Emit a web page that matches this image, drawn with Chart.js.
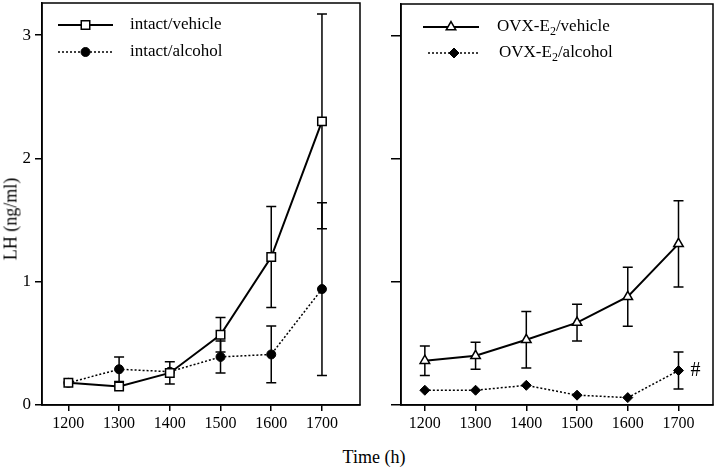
<!DOCTYPE html>
<html>
<head>
<meta charset="utf-8">
<script src="https://cdn.jsdelivr.net/npm/chart.js"></script>
<style>
html, body { margin: 0; padding: 0; background: #fff; }
body { width: 720px; height: 468px; position: relative; overflow: hidden; font-family: "Liberation Serif", "Times New Roman", serif; color: #000; }
.panel { position: absolute; top: 0; height: 432px; }
#left { left: 0; width: 370px; }
#right { left: 380px; width: 340px; }
.ytitle { position: absolute; left: 11px; top: 219px; transform: translate(-50%, -50%) rotate(-90deg); font-size: 18px; white-space: nowrap; }
.xtitle { position: absolute; left: 374px; top: 457px; transform: translate(-50%, -50%); font-size: 18px; white-space: nowrap; }
</style>
</head>
<body>
<div class="panel" id="left"><canvas id="c1"></canvas></div>
<div class="panel" id="right"><canvas id="c2"></canvas></div>
<div class="ytitle">LH (ng/ml)</div>
<div class="xtitle">Time (h)</div>
<script>
// sampling times and axis ticks
const times = [1200, 1300, 1400, 1500, 1600, 1700];
const xTicks = [1200, 1300, 1400, 1500, 1600, 1700];
const yTicks = [0, 1, 2, 3];

// left panel: intact animals (mean, +/- error)
const intactVehicle = [0.18, 0.15, 0.26, 0.57, 1.20, 2.30];
const intactVehicleErr = [0, 0, 0.09, 0.14, 0.41, 0.87];
const intactAlcohol = [0.18, 0.29, 0.27, 0.39, 0.41, 0.94];
const intactAlcoholErr = [0, 0.10, 0, 0.13, 0.23, 0.70];

// right panel: OVX-E2 animals
const ovxVehicle = [0.36, 0.40, 0.53, 0.67, 0.88, 1.31];
const ovxVehicleErr = [0.12, 0.11, 0.23, 0.15, 0.24, 0.35];
const ovxAlcohol = [0.12, 0.12, 0.16, 0.08, 0.06, 0.28];
const ovxAlcoholErr = [0, 0, 0, 0, 0, 0.15];

const FONT = '"Liberation Serif", "Times New Roman", serif';

function pts(vals) {
  return times.map((t, i) => ({ x: t, y: vals[i] }));
}

// vertical error bars, drawn under the markers
const errorBars = {
  id: 'errorBars',
  beforeDatasetsDraw(chart) {
    const ctx = chart.ctx, xs = chart.scales.x, ys = chart.scales.y;
    ctx.save();
    ctx.strokeStyle = '#000';
    ctx.lineWidth = 1.5;
    chart.data.datasets.forEach(ds => {
      (ds.errors || []).forEach((e, i) => {
        if (!e) return;
        const p = ds.data[i];
        const x = xs.getPixelForValue(p.x);
        const y1 = ys.getPixelForValue(p.y + e);
        const y2 = ys.getPixelForValue(p.y - e);
        ctx.beginPath();
        ctx.moveTo(x, y1); ctx.lineTo(x, y2);
        ctx.moveTo(x - 5, y1); ctx.lineTo(x + 5, y1);
        ctx.moveTo(x - 5, y2); ctx.lineTo(x + 5, y2);
        ctx.stroke();
      });
    });
    ctx.restore();
  }
};

// box around the plot area
const frame = {
  id: 'frame',
  afterDraw(chart) {
    const a = chart.chartArea, ctx = chart.ctx;
    ctx.save();
    ctx.strokeStyle = '#000';
    ctx.lineWidth = 1.5;
    ctx.strokeRect(a.left, a.top, a.right - a.left, a.bottom - a.top);
    ctx.restore();
  }
};

// text with "E2" subscript
function richText(ctx, text, x, y) {
  const m = text.match(/^(.*E)(2)(.*)$/);
  if (!m) { ctx.fillText(text, x, y); return; }
  ctx.fillText(m[1], x, y);
  const w = ctx.measureText(m[1]).width;
  ctx.save();
  ctx.font = '12px ' + FONT;
  ctx.fillText(m[2], x + w, y + 5);
  const w2 = ctx.measureText(m[2]).width;
  ctx.restore();
  ctx.fillText(m[3], x + w + w2, y);
}

// legend with line sample + marker
const sampleLegend = {
  id: 'sampleLegend',
  afterDraw(chart, args, o) {
    const ctx = chart.ctx;
    chart.data.datasets.forEach((ds, i) => {
      const r = o.rows[i];
      ctx.save();
      ctx.strokeStyle = '#000';
      ctx.lineWidth = ds.borderWidth;
      ctx.setLineDash(ds.borderDash || []);
      ctx.beginPath();
      ctx.moveTo(r.x0, r.y); ctx.lineTo(r.x1, r.y);
      ctx.stroke();
      ctx.setLineDash([]);
      ctx.fillStyle = ds.pointBackgroundColor;
      ctx.strokeStyle = ds.pointBorderColor;
      ctx.lineWidth = ds.pointBorderWidth;
      Chart.helpers.drawPoint(ctx, { pointStyle: ds.pointStyle, radius: ds.pointRadius, rotation: 0, borderWidth: ds.pointBorderWidth }, (r.x0 + r.x1) / 2, r.y);
      ctx.fillStyle = '#000';
      ctx.font = '17px ' + FONT;
      ctx.textBaseline = 'middle';
      richText(ctx, ds.label, r.tx, r.y);
      ctx.restore();
    });
  }
};

// significance mark next to a point
const hashMark = {
  id: 'hashMark',
  afterDatasetsDraw(chart, args, o) {
    if (!o || !o.text) return;
    const p = chart.data.datasets[o.datasetIndex].data[o.index];
    const ctx = chart.ctx;
    ctx.save();
    ctx.fillStyle = '#000';
    ctx.font = '20px ' + FONT;
    ctx.textBaseline = 'middle';
    ctx.fillText(o.text, chart.scales.x.getPixelForValue(p.x) + 12, chart.scales.y.getPixelForValue(p.y));
    ctx.restore();
  }
};

function makeChart(id, datasets, o) {
  return new Chart(document.getElementById(id), {
    type: 'line',
    data: { datasets },
    options: {
      responsive: true,
      maintainAspectRatio: false,
      animation: false,
      layout: { autoPadding: false, padding: { top: o.padTop, right: o.padRight, left: 0, bottom: 0 } },
      plugins: {
        legend: { display: false },
        tooltip: { enabled: false },
        sampleLegend: o.legend,
        hashMark: o.mark || {}
      },
      scales: {
        x: {
          type: 'linear',
          min: o.xmin,
          max: o.xmax,
          afterBuildTicks: s => { s.ticks = xTicks.map(v => ({ value: v })); },
          afterFit: s => { s.height = 27; s.paddingLeft = 0; s.paddingRight = 0; },
          grid: { drawOnChartArea: false, tickLength: 6, color: '#000', lineWidth: 1.5 },
          border: { color: '#000', width: 1.5 },
          ticks: { color: '#000', font: { family: FONT, size: 16 }, padding: 3, maxRotation: 0, callback: v => String(v) }
        },
        y: {
          min: 0,
          max: 3.26,
          afterBuildTicks: s => { s.ticks = yTicks.map(v => ({ value: v })); },
          afterFit: s => { s.width = o.yWidth; s.paddingTop = 0; s.paddingBottom = 0; },
          grid: { drawOnChartArea: false, tickLength: o.yTick, color: '#000', lineWidth: 1.5 },
          border: { color: '#000', width: 1.5 },
          ticks: { display: o.yLabels, color: '#000', font: { family: FONT, size: 17 }, padding: 4 }
        }
      }
    },
    plugins: [errorBars, frame, sampleLegend, hashMark]
  });
}

makeChart('c1', [
  {
    label: 'intact/vehicle', data: pts(intactVehicle), errors: intactVehicleErr,
    borderColor: '#000', borderWidth: 2, tension: 0,
    pointStyle: 'rect', pointRadius: 6, pointBackgroundColor: '#fff', pointBorderColor: '#000', pointBorderWidth: 1.5
  },
  {
    label: 'intact/alcohol', data: pts(intactAlcohol), errors: intactAlcoholErr,
    borderColor: '#000', borderWidth: 1.5, borderDash: [2, 2], tension: 0,
    pointStyle: 'circle', pointRadius: 4.5, pointBackgroundColor: '#000', pointBorderColor: '#000', pointBorderWidth: 1
  }
], {
  xmin: 1148, xmax: 1775, padTop: 3, padRight: 10, yWidth: 42, yTick: 7, yLabels: true,
  legend: { rows: [{ x0: 58, x1: 113, y: 25, tx: 130 }, { x0: 58, x1: 113, y: 52, tx: 130 }] }
});

makeChart('c2', [
  {
    label: 'OVX-E2/vehicle', data: pts(ovxVehicle), errors: ovxVehicleErr,
    borderColor: '#000', borderWidth: 2, tension: 0,
    pointStyle: 'triangle', pointRadius: 5.5, pointBackgroundColor: '#fff', pointBorderColor: '#000', pointBorderWidth: 1.5
  },
  {
    label: 'OVX-E2/alcohol', data: pts(ovxAlcohol), errors: ovxAlcoholErr,
    borderColor: '#000', borderWidth: 1.5, borderDash: [2, 2], tension: 0,
    pointStyle: 'rectRot', pointRadius: 5, pointBackgroundColor: '#000', pointBorderColor: '#000', pointBorderWidth: 1
  }
], {
  xmin: 1153, xmax: 1768, padTop: 4, padRight: 7, yWidth: 21, yTick: 10, yLabels: false,
  legend: { rows: [{ x0: 43, x1: 99, y: 27, tx: 117 }, { x0: 48, x1: 100, y: 53, tx: 119 }] },
  mark: { datasetIndex: 1, index: 5, text: '#' }
});
</script>
</body>
</html>
